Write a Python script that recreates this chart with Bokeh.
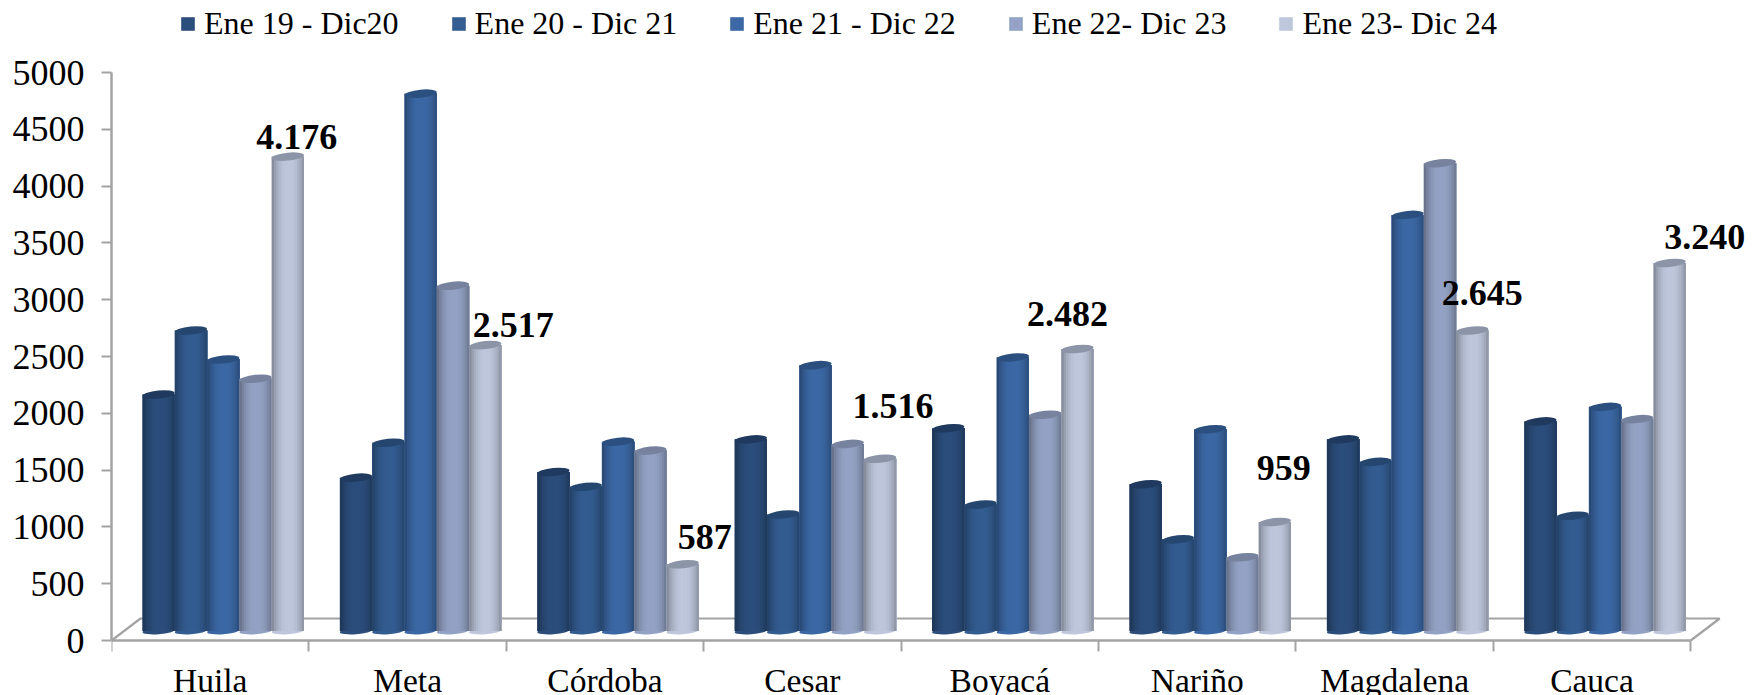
from bokeh.plotting import figure
from bokeh.embed import file_html
from bokeh.resources import INLINE
from bokeh.models import ColumnDataSource, FixedTicker, Legend, LegendItem, LabelSet, Range1d

categories = ["Huila", "Meta", "Córdoba", "Cesar", "Boyacá", "Nariño", "Magdalena", "Cauca"]
series_names = ["Ene 19 - Dic20", "Ene 20 - Dic 21", "Ene 21 - Dic 22", "Ene 22- Dic 23", "Ene 23- Dic 24"]
s1 = [2082, 1350, 1400, 1687, 1785, 1292, 1687, 1845]
s2 = [2645, 1657, 1270, 1025, 1114, 807, 1489, 1015]
s3 = [2390, 4730, 1667, 2340, 2408, 1776, 3663, 1973]
s4 = [2220, 3040, 1588, 1647, 1904, 649, 4118, 1865]
s5 = [4176, 2517, 587, 1516, 2482, 959, 2645, 3240]
last_labels = ["4.176", "2.517", "587", "1.516", "2.482", "959", "2.645", "3.240"]
series = [s1, s2, s3, s4, s5]
colors = ["#2C4E7C", "#345D92", "#3C69A6", "#94A3C5", "#BEC7DC"]
caps = ["#1F3A5E", "#24466F", "#2B5080", "#76829E", "#8C95A8"]

FONT = "Liberation Serif"
W, H = 1758, 695
FRAME_L, AXIS_Y = 111, 640
CAT_PX = 197.4
VAL_PX = 568 / 5000
bar_w = 32.3 / CAT_PX
group_off = 31 / CAT_PX
base = 9.5 / VAL_PX
STRIPS = 14


def shade(hex_color, t):
    r, g, b = [int(hex_color[i:i + 2], 16) for i in (1, 3, 5)]
    k = 1 - 0.34 * (abs(t - 0.52) / 0.52) ** 2.4
    return "#%02x%02x%02x" % (int(r * k), int(g * k), int(b * k))


p = figure(width=W, height=H, output_backend="svg", toolbar_location=None,
           x_range=Range1d(0, (W - FRAME_L) / CAT_PX),
           y_range=Range1d(-(H - AXIS_Y) / VAL_PX, AXIS_Y / VAL_PX),
           min_border_left=FRAME_L, min_border_right=0, min_border_top=0,
           min_border_bottom=0, outline_line_color=None)
p.grid.visible = False

GREY = "#A3A3A3"
depth_x, depth_y = 29 / CAT_PX, 22 / VAL_PX
p.line([0, depth_x, 8 + depth_x, 8], [0, depth_y, depth_y, 0], line_color=GREY, line_width=2.2)

items = []
for s, (vals, col, cap, name) in enumerate(zip(series, colors, caps, series_names)):
    xs = [i + group_off + (s + 0.5) * bar_w for i in range(len(vals))]
    tops = [v + base for v in vals]
    r = p.vbar(x=xs, top=tops, bottom=base, width=bar_w, fill_color=col, line_color=None)
    items.append(LegendItem(label=name, renderers=[r]))
    # bottom cap
    p.ellipse(x=xs, y=[base] * len(xs), width=bar_w, height=6.5 / VAL_PX, angle=0.07,
              fill_color=[shade(col, 0.5)] * len(xs), line_color=None)
    # cylinder shading: nested strips, painted left to right
    left, right, top, bottom, fill = [], [], [], [], []
    for x, t in zip(xs, tops):
        for k in range(STRIPS):
            f = k / STRIPS
            left.append(x - bar_w / 2 + f * bar_w)
            right.append(x + bar_w / 2)
            top.append(t)
            bottom.append(base)
            fill.append(shade(col, (k + 0.5) / STRIPS))
    p.quad(left=left, right=right, top=top, bottom=bottom, fill_color=fill, line_color=None)
    # top cap
    p.ellipse(x=xs, y=tops, width=bar_w, height=8.0 / VAL_PX, angle=0.10,
              fill_color=cap, line_color=None)

# data labels on the last series (manual placement, as in the reference)
label_dx = [9, 28, 22, 13, -10, 9, 10, 35]
label_dy = [20, 20, 27, 53, 35, 54, 38, 26]
lab_x = [i + group_off + 4.5 * bar_w + dx / CAT_PX for i, dx in enumerate(label_dx)]
lab_y = [v + base + dy / VAL_PX for v, dy in zip(s5, label_dy)]
src = ColumnDataSource(dict(x=lab_x, y=lab_y, text=last_labels))
p.add_layout(LabelSet(x="x", y="y", text="text", source=src, text_font=FONT, text_font_size="36px",
                      text_font_style="bold", text_color="black", text_align="center",
                      text_baseline="middle"))

legend = Legend(items=items, orientation="horizontal", location=(68, 653), padding=0, margin=0,
                spacing=51, glyph_width=17, glyph_height=17, label_standoff=8, border_line_color=None,
                background_fill_alpha=0, label_text_font=FONT, label_text_font_size="32px",
                label_text_color="black", label_height=30)
p.add_layout(legend)

xa = p.xaxis[0]
xa.bounds = (0, 8)
xa.fixed_location = 0
xa.ticker = FixedTicker(ticks=[i + 0.5 for i in range(8)], minor_ticks=list(range(9)))
xa.major_label_overrides = {i + 0.5: c for i, c in enumerate(categories)}
xa.major_tick_line_color = None
xa.major_tick_in = 0
xa.major_tick_out = 0
xa.minor_tick_in = 0
xa.minor_tick_out = 11
xa.minor_tick_line_color = GREY
xa.minor_tick_line_width = 2
xa.axis_line_color = GREY
xa.axis_line_width = 2.5
xa.major_label_standoff = 10
xa.major_label_text_font = FONT
xa.major_label_text_font_size = "33.5px"
xa.major_label_text_color = "black"

ya = p.yaxis[0]
ya.bounds = (0, 5000)
ya.ticker = FixedTicker(ticks=list(range(0, 5001, 500)))
ya.minor_tick_line_color = None
ya.major_tick_in = 0
ya.major_tick_out = 10
ya.major_tick_line_color = GREY
ya.major_tick_line_width = 2
ya.axis_line_color = GREY
ya.axis_line_width = 2.5
ya.major_label_standoff = 17
ya.major_label_text_font = FONT
ya.major_label_text_font_size = "36px"
ya.major_label_text_color = "black"

open("out.html", "w").write(file_html(p, INLINE))
